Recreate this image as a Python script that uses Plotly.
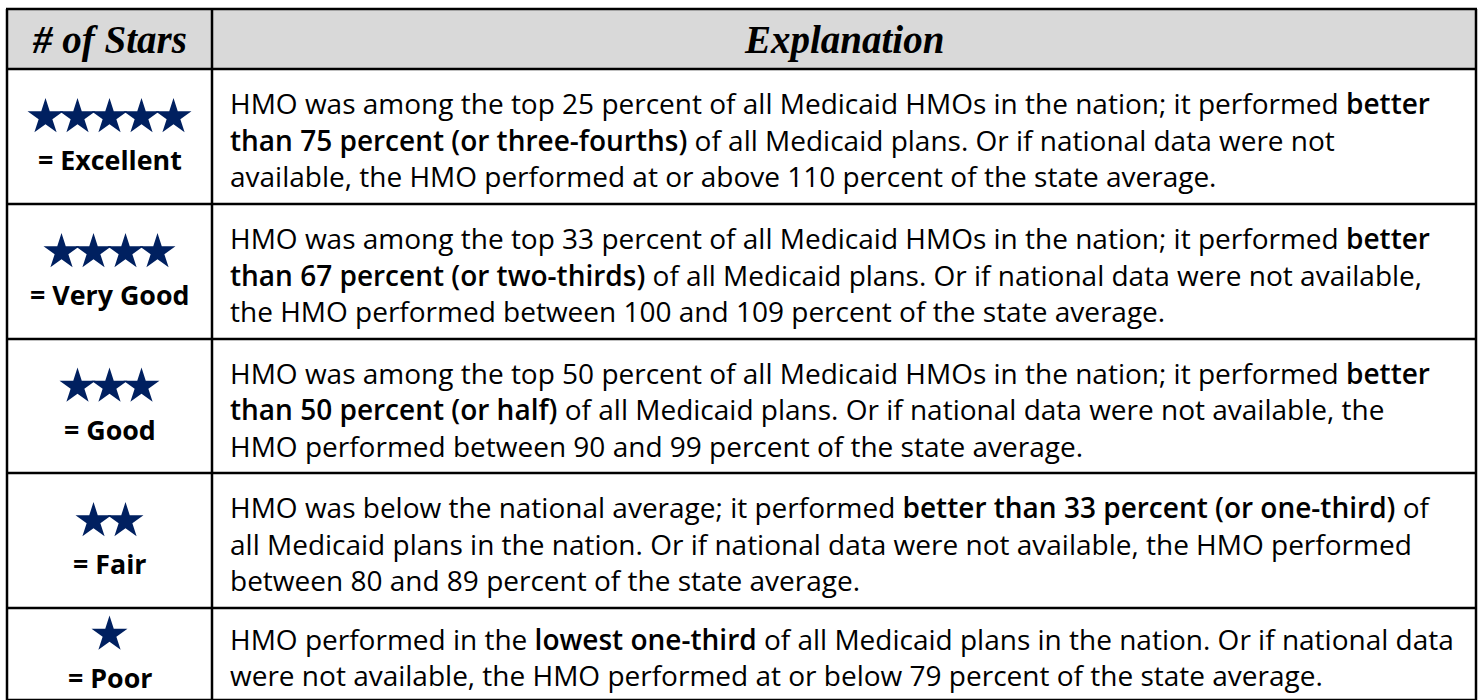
import plotly.graph_objects as go

# ---- data ----
header_labels = ["# of Stars", "Explanation"]
star_counts = [5, 4, 3, 2, 1]
ratings = ["Excellent", "Very Good", "Good", "Fair", "Poor"]
explanations = [
    ["HMO was among the top 25 percent of all Medicaid HMOs in the nation; it performed <b>better</b>",
     "<b>than 75 percent (or three-fourths)</b> of all Medicaid plans. Or if national data were not",
     "available, the HMO performed at or above 110 percent of the state average."],
    ["HMO was among the top 33 percent of all Medicaid HMOs in the nation; it performed <b>better</b>",
     "<b>than 67 percent (or two-thirds)</b> of all Medicaid plans. Or if national data were not available,",
     "the HMO performed between 100 and 109 percent of the state average."],
    ["HMO was among the top 50 percent of all Medicaid HMOs in the nation; it performed <b>better</b>",
     "<b>than 50 percent (or half)</b> of all Medicaid plans. Or if national data were not available, the",
     "HMO performed between 90 and 99 percent of the state average."],
    ["HMO was below the national average; it performed <b>better than 33 percent (or one-third)</b> of",
     "all Medicaid plans in the nation. Or if national data were not available, the HMO performed",
     "between 80 and 89 percent of the state average."],
    ["HMO performed in the <b>lowest one-third</b> of all Medicaid plans in the nation. Or if national data",
     "were not available, the HMO performed at or below 79 percent of the state average."],
]

# ---- layout geometry (pixels) ----
W, H = 1480, 700
X0, XDIV, X1 = 7, 212, 1476
row_edges = [9, 69, 204, 339, 473, 608, 700]
TEXT_X = 228
LINE_H = 36.5
STAR_PITCH = 32
NAVY = "#002060"
BODY_FONT = "Open Sans"
BODY_SIZE = 28.0
LABEL_SIZE = 26.8
HEAD_FONT = "Liberation Serif"
HEAD_SIZE = 39
SEMIBOLD_OPEN = '<span style="font-weight:600">'


def semibold(s):
    return s.replace("<b>", SEMIBOLD_OPEN).replace("</b>", "</span>")


fig = go.Figure()
shapes = []
annotations = []

# header background
shapes.append(dict(type="rect", x0=X0, x1=X1, y0=row_edges[0], y1=row_edges[1],
                   fillcolor="#d9d9d9", line=dict(width=0), layer="below"))
# horizontal lines
for y in row_edges:
    shapes.append(dict(type="line", x0=X0 - 1, x1=X1 + 1, y0=y, y1=y, line=dict(color="black", width=2.5)))
# vertical lines
for x in (X0, XDIV, X1):
    shapes.append(dict(type="line", x0=x, x1=x, y0=row_edges[0], y1=row_edges[-1] + 5,
                       line=dict(color="black", width=2.5)))

# header texts
hy = (row_edges[0] + row_edges[1]) / 2 + 1
for lbl, cx in zip(header_labels, [(X0 + XDIV) / 2, (XDIV + X1) / 2]):
    annotations.append(dict(x=cx, y=hy, text="<b><i>%s</i></b>" % lbl, showarrow=False,
                            xanchor="center", yanchor="middle",
                            font=dict(family=HEAD_FONT, size=HEAD_SIZE, color="black")))

star_x, star_y = [], []
cx_col = (X0 + XDIV) / 2
for i, (n, rating, lines) in enumerate(zip(star_counts, ratings, explanations)):
    top, bot = row_edges[i + 1], row_edges[i + 2]
    rc = (top + bot) / 2
    for k in range(n):
        star_x.append(cx_col + (k - (n - 1) / 2) * STAR_PITCH)
        star_y.append(rc - 19.5)
    annotations.append(dict(x=cx_col, y=rc + 23, text="<b>= %s</b>" % rating, showarrow=False,
                            xanchor="center", yanchor="middle",
                            font=dict(family=BODY_FONT, size=LABEL_SIZE, color="black")))
    m = len(lines)
    for j, ln in enumerate(lines):
        annotations.append(dict(x=TEXT_X, y=rc + 3 + (j - (m - 1) / 2) * LINE_H, text=semibold(ln),
                                showarrow=False, xanchor="left", yanchor="middle",
                                font=dict(family=BODY_FONT, size=BODY_SIZE, color="black")))

fig.add_trace(go.Scatter(x=star_x, y=star_y, mode="markers",
                         marker=dict(symbol="star", size=27, color=NAVY, line=dict(width=0)),
                         hoverinfo="skip", showlegend=False))

fig.update_layout(
    width=W, height=H, margin=dict(l=0, r=0, t=0, b=0),
    paper_bgcolor="white", plot_bgcolor="white",
    xaxis=dict(range=[0, W], visible=False, fixedrange=True),
    yaxis=dict(range=[H, 0], visible=False, fixedrange=True),
    shapes=shapes, annotations=annotations, showlegend=False,
)
fig.write_html("out.html", config={"displayModeBar": False},
               post_script="document.body.style.margin='0';document.body.style.overflow='hidden';")
